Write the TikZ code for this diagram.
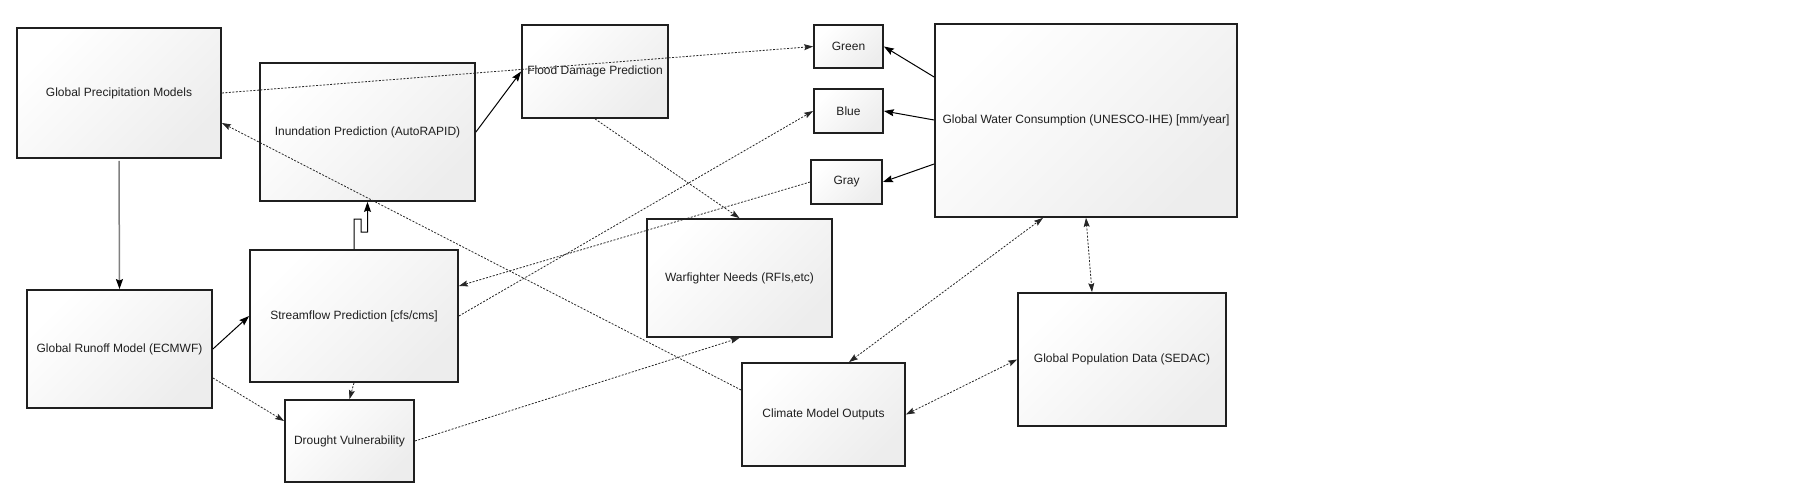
\documentclass[tikz,border=0pt]{standalone}
\usepackage{fontspec}
\setmainfont{Liberation Sans}
\usetikzlibrary{arrows.meta,calc}
\tikzset{
  boxnode/.style={draw=black!88, line width=1.8pt, inner sep=0pt, align=center,
    top color=white, bottom color=black!7, shading angle=45,
    text=black!88, font=\fontsize{12}{14}\selectfont},
  solidcon/.style={line width=1pt, draw=black, -{Stealth[length=10pt,width=7pt,inset=1.5pt]}},
  dotcon/.style={line width=0.8pt, draw=black!85, dash pattern=on 2pt off 1.5pt, -{Stealth[length=9pt,width=6pt,inset=1.5pt]}},
  dotboth/.style={dotcon, {Stealth[length=9pt,width=6pt,inset=1.5pt]}-{Stealth[length=9pt,width=6pt,inset=1.5pt]}},
  graycon/.style={line width=1.5pt, draw=black!50, -{Stealth[length=10pt,width=7pt,inset=1.5pt,black]}}
}
\begin{document}
\begin{tikzpicture}[x=1pt,y=-1pt]
\useasboundingbox (0,0) rectangle (1800,500);
\node[boxnode, minimum width=204pt, minimum height=130pt] (precip) at (119,93) {Global Precipitation Models};
\node[boxnode, minimum width=215pt, minimum height=138pt] (inund) at (367.5,132) {Inundation Prediction (AutoRAPID)};
\node[boxnode, minimum width=146pt, minimum height=93pt] (flood) at (595,71.5) {};
\node[text=black!88, font=\fontsize{12}{14}\selectfont, inner sep=0pt] (floodtxt) at (flood.center) {Flood Damage Prediction};
\node[boxnode, minimum width=69pt, minimum height=43pt] (green) at (848.5,46.5) {Green};
\node[boxnode, minimum width=69pt, minimum height=44pt] (blue) at (848.5,111) {Blue};
\node[boxnode, minimum width=71pt, minimum height=44pt] (gray) at (846.5,182) {Gray};
\node[boxnode, minimum width=302pt, minimum height=193pt] (water) at (1086,120.5) {Global Water Consumption (UNESCO-IHE) [mm/year]};
\node[boxnode, minimum width=185pt, minimum height=118pt] (runoff) at (119.5,349) {Global Runoff Model (ECMWF)};
\node[boxnode, minimum width=208pt, minimum height=132pt] (stream) at (354,316) {Streamflow Prediction [cfs/cms]};
\node[boxnode, minimum width=129pt, minimum height=82pt] (drought) at (349.5,441) {Drought Vulnerability};
\node[boxnode, minimum width=185pt, minimum height=118pt] (warf) at (739.5,278) {Warfighter Needs (RFIs,etc)};
\node[boxnode, minimum width=163pt, minimum height=103pt] (climate) at (823.5,414.5) {Climate Model Outputs};
\node[boxnode, minimum width=208pt, minimum height=133pt] (pop) at (1122,359.5) {Global Population Data (SEDAC)};

% connectors
\draw[graycon] ([yshift=-2pt]precip.south) -- (runoff.north);
\draw[solidcon] (runoff.east) -- (stream.west);
\draw[dotcon] (runoff.east |- 0,378) -- (drought.west |- 0,421);
\draw[line width=1pt, -{Stealth[length=10pt,width=7pt,inset=1.5pt]}] (stream.north) -- ++(0,-30) -- ++(7,0) -- ++(0,13) -- (inund.south |- 0,232) -- (inund.south);
\draw[dotcon] (stream.south) -- (drought.north);
\draw[solidcon] (inund.east) -- (flood.west);
\draw[dotcon] (precip.east) -- (green.west);
\draw[dotcon] (climate.west |- 0,390) -- (precip.east |- 0,123);
\draw[dotcon] (flood.south) -- (warf.north);
\draw[dotcon] (stream.east) -- (blue.west);
\draw[dotcon] (gray.west) -- (stream.east |- 0,286);
\draw[solidcon] (water.west |- 0,77) -- (green.east);
\draw[solidcon] (water.west |- 0,120) -- (blue.east);
\draw[solidcon] (water.west |- 0,164) -- (gray.east);
\draw[dotboth] (climate.north -| 849,0) -- (water.south -| 1043,0);
\draw[dotboth] (water.south) -- (pop.north -| 1092,0);
\draw[dotboth] (climate.east) -- (pop.west);
\draw[dotcon] (drought.east) -- (warf.south);
\end{tikzpicture}
\end{document}
